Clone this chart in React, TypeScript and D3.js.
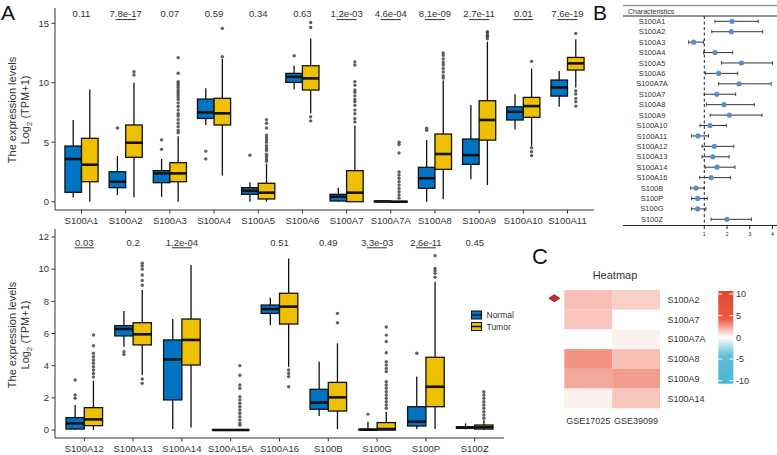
import React from "react";
import * as d3 from "d3";

const FONT = "'Liberation Sans', Arial, Helvetica, sans-serif";
const NORMAL_COL = "#0073C2";
const TUMOR_COL = "#EFC000";
const TXT = "#333333";

// ---- panel A, upper row ----
const topGenes = ["S100A1", "S100A2", "S100A3", "S100A4", "S100A5", "S100A6", "S100A7", "S100A7A", "S100A8", "S100A9", "S100A10", "S100A11"];
const topP = ["0.11", "7.8e-17", "0.07", "0.59", "0.34", "0.63", "1.2e-03", "4.6e-04", "8.1e-09", "2.7e-11", "0.01", "7.6e-19"];
const topSig = [false, true, false, false, false, false, true, true, true, true, true, true];
// [lower whisker, q1, median, q3, upper whisker]
const topNormal = [
  [0.35, 0.79, 3.59, 4.68, 6.87],
  [0.56, 1.18, 1.68, 2.52, 3.84],
  [0.42, 1.6, 2.38, 2.61, 3.59],
  [6.45, 7.0, 7.51, 8.63, 9.53],
  [0, 0.62, 0.92, 1.18, 1.63],
  [9.44, 10.03, 10.5, 10.79, 11.43],
  [0, 0.06, 0.42, 0.62, 1.18],
  [0, 0, 0.02, 0.05, 0.1],
  [0, 1.13, 1.97, 2.89, 5.18],
  [1.88, 3.14, 3.92, 5.27, 8.13],
  [6.08, 6.87, 7.56, 7.98, 9.03],
  [7.98, 8.88, 9.61, 10.23, 10.98],
];
const topTumor = [
  [0, 1.68, 3.11, 5.33, 9.44],
  [0.37, 3.73, 4.96, 6.45, 10.0],
  [0, 1.68, 2.38, 3.28, 5.5],
  [2.2, 6.45, 7.43, 8.69, 12.0],
  [0, 0.23, 0.76, 1.55, 3.2],
  [7.43, 9.39, 10.37, 11.43, 13.73],
  [0, 0, 0.76, 2.61, 6.4],
  [0, 0, 0, 0.02, 0.05],
  [0.2, 2.72, 4.01, 5.69, 10.2],
  [1.4, 5.18, 6.87, 8.49, 13.45],
  [4.7, 7.09, 8.04, 8.77, 11.2],
  [9.61, 11.07, 11.63, 12.13, 13.65],
];
const topNormalOut = [[], [6.2], [5.2, 4.4], [4.25, 3.6], [3.9], [12.27], [], [], [6.17, 6.0], [], [], []];
const topTumorOut = [
  [],
  [10.92, 10.65],
  [12.1, 10.8, 10.1, 9.95, 9.8, 9.6, 9.4, 9.2, 9.0, 8.8, 8.6, 8.3, 8.0, 7.7, 7.4, 7.2, 6.9, 6.6, 6.3, 6.0, 5.8],
  [14.57, 12.19],
  [6.9, 6.6, 6.2, 5.6, 5.4, 5.2, 5.0, 4.7, 4.5, 4.3, 4.0, 3.8, 3.6, 3.4],
  [15.07, 14.65, 7.14, 6.8],
  [11.76, 11.5, 10.1, 9.8, 9.4, 9.2, 8.9, 8.6, 8.4, 8.1, 7.7, 7.4, 7.0, 6.7],
  [5.0, 4.8, 4.1, 2.5, 2.25, 1.97, 1.69, 1.4, 1.12, 0.84, 0.56, 0.3],
  [12.5, 12.3, 12.0, 11.7, 11.5, 11.2, 10.9, 10.6, 10.4],
  [14.3, 14.2, 14.0, 13.9, 13.7],
  [11.8, 4.54, 4.2, 3.87],
  [14.15, 9.33, 9.05, 8.69, 8.4, 8.04],
];
const topTicks = [0, 5, 10, 15];

// ---- panel A, lower row ----
const botGenes = ["S100A12", "S100A13", "S100A14", "S100A15A", "S100A16", "S100B", "S100G", "S100P", "S100Z"];
const botP = ["0.03", "0.2", "1.2e-04", "", "0.51", "0.49", "3.3e-03", "2.6e-11", "0.45"];
const botSig = [true, false, true, false, false, false, true, true, false];
const botNormal = [
  [0, 0.06, 0.41, 0.77, 1.55],
  [5.18, 5.85, 6.28, 6.49, 7.4],
  [0.06, 1.87, 4.39, 5.6, 6.9],
  [0, 0, 0, 0.02, 0.04],
  [6.53, 7.25, 7.52, 7.77, 8.23],
  [0.87, 1.29, 1.7, 2.53, 4.25],
  [0, 0, 0.02, 0.05, 0.52],
  [0.06, 0.25, 0.52, 1.45, 3.32],
  [0.05, 0.1, 0.15, 0.2, 0.41],
];
const botTumor = [
  [0, 0.27, 0.66, 1.39, 3.07],
  [3.42, 5.29, 5.95, 6.67, 8.7],
  [0.15, 4.04, 5.6, 6.9, 10.26],
  [0, 0, 0, 0.02, 0.05],
  [3.94, 6.59, 7.67, 8.5, 10.67],
  [0.06, 1.18, 2.03, 2.96, 5.39],
  [0, 0, 0.06, 0.46, 1.14],
  [0.06, 1.45, 2.69, 4.52, 9.22],
  [0.02, 0.06, 0.17, 0.31, 0.6],
];
const botNormalOut = [[3.11, 2.18, 1.97], [4.87, 4.7], [], [], [], [], [0.99], [4.77], []];
const botTumorOut = [
  [5.91, 5.24, 4.77, 4.56, 4.35, 4.15, 3.94, 3.73, 3.52, 3.3],
  [10.37, 10.2, 10.0, 9.64, 9.3, 9.0, 3.17, 2.9],
  [],
  [4.0, 3.4, 2.8, 2.6, 2.07, 1.87, 1.66, 1.45, 1.24, 1.04, 0.83, 0.62, 0.41, 0.3],
  [3.73, 3.52, 3.32, 2.69],
  [7.25, 6.67],
  [6.4, 5.9, 5.5, 4.8, 4.25, 4.04, 3.83, 3.63, 3.0, 2.8, 2.6, 2.38, 2.18, 1.97, 1.76, 1.55, 1.35],
  [10.84, 10.05, 9.9, 9.74, 9.5],
  [2.38, 2.18, 1.97, 1.76, 1.55, 1.35, 1.14, 0.93, 0.73],
];
const botTicks = [0, 2, 4, 6, 8, 10, 12];

// ---- panel B, forest plot ----
const forestGenes = ["S100A1", "S100A2", "S100A3", "S100A4", "S100A5", "S100A6", "S100A7A", "S100A7", "S100A8", "S100A9", "S100A10", "S100A11", "S100A12", "S100A13", "S100A14", "S100A16", "S100B", "S100P", "S100G", "S100Z"];
const forestEst = [2.22, 2.19, 0.53, 1.47, 2.63, 1.63, 2.53, 1.55, 1.87, 2.1, 1.25, 0.72, 1.44, 1.37, 1.56, 1.3, 0.63, 0.71, 0.71, 1.99];
const forestLo = [1.47, 1.33, 0.31, 0.97, 1.75, 1.06, 1.63, 1.0, 1.09, 1.26, 0.81, 0.44, 0.9, 0.9, 1.03, 0.8, 0.4, 0.44, 0.44, 1.3];
const forestHi = [3.37, 3.57, 0.96, 2.25, 4.0, 2.47, 3.94, 2.38, 3.2, 3.54, 1.97, 1.18, 2.3, 2.09, 2.35, 2.15, 0.99, 1.13, 1.07, 3.07];
const forestTicks = [1, 2, 3, 4];

// ---- panel C, heatmap ----
const heatRows = ["S100A2", "S100A7", "S100A7A", "S100A8", "S100A9", "S100A14"];
const heatCols = ["GSE17025", "GSE39099"];
const heatGSE17025 = [1.55, 1.4, -0.1, 2.6, 2.1, 0.35];
const heatGSE39099 = [1.16, 0, 0.35, 1.55, 2.4, 1.4];
const heatLegendTicks = [10, 5, 0, -5, -10];

const heatColor = d3
  .scaleLinear<string>()
  .domain([-10, -4, 0, 4, 10])
  .range(["#49b7d3", "#5cbfd8", "#ffffff", "#ea5a43", "#e3462f"]);

function Box({ cx, w, s, y, fill }: any) {
  const [lo, q1, med, q3, hi] = s;
  return (
    <g>
      <line x1={cx} x2={cx} y1={y(hi)} y2={y(q3)} stroke="#111" strokeWidth={1.3} />
      <line x1={cx} x2={cx} y1={y(q1)} y2={y(lo)} stroke="#111" strokeWidth={1.3} />
      <rect x={cx - w / 2} y={y(q3)} width={w} height={Math.max(0.01, y(q1) - y(q3))} fill={fill} stroke="#111" strokeWidth={1.3} />
      <line x1={cx - w / 2} x2={cx + w / 2} y1={y(med)} y2={y(med)} stroke="#111" strokeWidth={2.6} />
    </g>
  );
}

function BoxPanel(props: any) {
  const { genes, normal, tumor, normalOut, tumorOut, pvals, sig, ticks, yDomainPx, xRange, axisTop, axisBottom, pY, titleY } = props;
  const x = d3.scalePoint<string>().domain(genes).range(xRange).padding(0.6);
  const y = d3.scaleLinear().domain([0, ticks[ticks.length - 1]]).range(yDomainPx);
  const step = x.step();
  const bw = step * 0.375;
  const off = step * 0.1875;
  return (
    <g>
      {genes.map((g: string, i: number) => {
        const cx = x(g) as number;
        return (
          <g key={g}>
            <Box cx={cx - off} w={bw} s={normal[i]} y={y} fill={NORMAL_COL} />
            <Box cx={cx + off} w={bw} s={tumor[i]} y={y} fill={TUMOR_COL} />
            {normalOut[i].map((v: number, k: number) => (
              <circle key={"n" + k} cx={cx - off} cy={y(v)} r={1.7} fill="#444" opacity={0.85} />
            ))}
            {tumorOut[i].map((v: number, k: number) => (
              <circle key={"t" + k} cx={cx + off} cy={y(v)} r={1.7} fill="#444" opacity={0.85} />
            ))}
            {pvals[i] && (
              <text x={cx} y={pY} textAnchor="middle" fontSize={9.5} fill={TXT}>
                {pvals[i]}
              </text>
            )}
            {sig[i] && <line x1={cx - 10} x2={cx + 10} y1={pY + 2.3} y2={pY + 2.3} stroke={TXT} strokeWidth={1} />}
            <line x1={cx} x2={cx} y1={axisBottom} y2={axisBottom + 3.5} stroke="#333" />
            <text x={cx} y={axisBottom + 13.5} textAnchor="middle" fontSize={9.5} fill={TXT}>
              {g}
            </text>
          </g>
        );
      })}
      <line x1={55} x2={55} y1={axisTop} y2={axisBottom} stroke="#333" strokeWidth={1} />
      <line x1={55} x2={xRange[1]} y1={axisBottom} y2={axisBottom} stroke="#333" strokeWidth={1} />
      {ticks.map((t: number) => (
        <g key={t}>
          <line x1={51.5} x2={55} y1={y(t)} y2={y(t)} stroke="#333" />
          <text x={49} y={y(t) + 3.3} textAnchor="end" fontSize={9.5} fill={TXT}>
            {t}
          </text>
        </g>
      ))}
      <text transform={`translate(16,${titleY}) rotate(-90)`} textAnchor="middle" fontSize={11} fill={TXT}>
        The expression levels
      </text>
      <text transform={`translate(28.5,${titleY}) rotate(-90)`} textAnchor="middle" fontSize={11} fill={TXT}>
        <tspan>Log</tspan>
        <tspan dy={3} fontSize={8}>2</tspan>
        <tspan dy={-3}> (TPM+1)</tspan>
      </text>
    </g>
  );
}

function Forest() {
  const x = d3.scaleLinear().domain([1, 4]).range([704.3, 772.5]);
  const y = d3.scalePoint<string>().domain(forestGenes).range([21.3, 219.3]);
  return (
    <g>
      <line x1={623} x2={777} y1={5.5} y2={5.5} stroke="#9a9a9a" strokeWidth={1.6} />
      <text x={628} y={14} fontSize={7} fill={TXT}>Characteristics</text>
      <line x1={623} x2={777} y1={16} y2={16} stroke="#222" strokeWidth={1} />
      <line x1={x(1)} x2={x(1)} y1={16} y2={225.5} stroke="#222" strokeWidth={1} strokeDasharray="3,2.5" />
      {forestGenes.map((g, i) => {
        const cy = y(g) as number;
        return (
          <g key={g}>
            <text x={652} y={cy + 2.6} textAnchor="middle" fontSize={7.5} fill={TXT}>{g}</text>
            <line x1={x(forestLo[i])} x2={x(forestHi[i])} y1={cy} y2={cy} stroke="#333" strokeWidth={1} />
            <line x1={x(forestLo[i])} x2={x(forestLo[i])} y1={cy - 1.8} y2={cy + 1.8} stroke="#333" strokeWidth={0.9} />
            <line x1={x(forestHi[i])} x2={x(forestHi[i])} y1={cy - 1.8} y2={cy + 1.8} stroke="#333" strokeWidth={0.9} />
            <circle cx={x(forestEst[i])} cy={cy} r={2.6} fill="#5b8dc8" />
          </g>
        );
      })}
      <line x1={623} x2={777} y1={225.5} y2={225.5} stroke="#222" strokeWidth={1} />
      {forestTicks.map((t) => (
        <g key={t}>
          <line x1={x(t)} x2={x(t)} y1={225.5} y2={229} stroke="#222" />
          <text x={x(t)} y={236} textAnchor="middle" fontSize={5.5} fill={TXT}>{t}</text>
        </g>
      ))}
    </g>
  );
}

function Heatmap() {
  const x = d3.scaleBand<string>().domain(heatCols).range([564.3, 660]);
  const y = d3.scaleBand<string>().domain(heatRows).range([290, 408.3]);
  const cols = [heatGSE17025, heatGSE39099];
  const ly = d3.scaleLinear().domain([-10, 10]).range([380.7, 294]);
  const gradStops = [-10, -8, -6, -4, -2, 0, 2, 4, 6, 8, 10];
  return (
    <g>
      <text x={615} y={279} textAnchor="middle" fontSize={11} fill={TXT}>Heatmap</text>
      {heatCols.map((c, j) =>
        heatRows.map((r, i) => (
          <rect key={c + r} x={x(c)} y={y(r)} width={x.bandwidth()} height={y.bandwidth()} fill={heatColor(cols[j][i])} />
        ))
      )}
      {heatRows.map((r) => (
        <text key={r} x={667.5} y={(y(r) as number) + y.bandwidth() / 2 + 3.2} fontSize={9} fill={TXT}>{r}</text>
      ))}
      {heatCols.map((c) => (
        <text key={c} x={(x(c) as number) + x.bandwidth() / 2} y={424} textAnchor="middle" fontSize={9} fill={TXT}>{c}</text>
      ))}
      <polygon points="549,298.3 554.3,294.8 559.6,298.3 554.3,301.8" fill="#e3212b" stroke="#5a0a0a" strokeWidth={0.8} />
      <defs>
        <linearGradient id="heatGrad" x1="0" y1="1" x2="0" y2="0">
          {gradStops.map((v) => (
            <stop key={v} offset={`${((v + 10) / 20) * 100}%`} stopColor={heatColor(v)} />
          ))}
        </linearGradient>
      </defs>
      <rect x={718.3} y={ly(10) - 3} width={15} height={ly(-10) - ly(10) + 6} fill="url(#heatGrad)" />
      {heatLegendTicks.map((t) => (
        <g key={t}>
          <line x1={718.3} x2={722.3} y1={ly(t)} y2={ly(t)} stroke="#fff" strokeWidth={1} />
          <line x1={729.3} x2={733.3} y1={ly(t)} y2={ly(t)} stroke="#fff" strokeWidth={1} />
          <text x={736} y={ly(t) + 3.3} fontSize={9} fill={TXT}>{t}</text>
        </g>
      ))}
    </g>
  );
}

export default function App() {
  return (
    <svg width={777} height={455} style={{ position: "absolute", left: 0, top: 0, background: "#fff" }} fontFamily={FONT}>
      <rect width={777} height={455} fill="#fff" />
      <BoxPanel
        genes={topGenes}
        normal={topNormal}
        tumor={topTumor}
        normalOut={topNormalOut}
        tumorOut={topTumorOut}
        pvals={topP}
        sig={topSig}
        ticks={topTicks}
        yDomainPx={[201.7, 23.3]}
        xRange={[55, 594]}
        axisTop={8}
        axisBottom={210}
        pY={17.3}
        titleY={110}
      />
      <BoxPanel
        genes={botGenes}
        normal={botNormal}
        tumor={botTumor}
        normalOut={botNormalOut}
        tumorOut={botTumorOut}
        pvals={botP}
        sig={botSig}
        ticks={botTicks}
        yDomainPx={[430, 237]}
        xRange={[55, 504]}
        axisTop={229}
        axisBottom={438}
        pY={245.5}
        titleY={335}
      />
      {/* legend */}
      <g>
        <rect x={471.5} y={311} width={10} height={8} fill={NORMAL_COL} stroke="#111" strokeWidth={1} />
        <line x1={471.5} x2={481.5} y1={315} y2={315} stroke="#111" strokeWidth={1.5} />
        <rect x={471.5} y={322.5} width={10} height={8} fill={TUMOR_COL} stroke="#111" strokeWidth={1} />
        <line x1={471.5} x2={481.5} y1={326.5} y2={326.5} stroke="#111" strokeWidth={1.5} />
        <text x={486.5} y={318} fontSize={8.5} fill={TXT}>Normal</text>
        <text x={486.5} y={329.5} fontSize={8.5} fill={TXT}>Tumor</text>
      </g>
      <Forest />
      <Heatmap />
      <text x={1} y={19.5} fontSize={21} fill="#111">A</text>
      <text x={593} y={20} fontSize={21} fill="#111">B</text>
      <text x={532} y={264} fontSize={22} fill="#111">C</text>
    </svg>
  );
}
